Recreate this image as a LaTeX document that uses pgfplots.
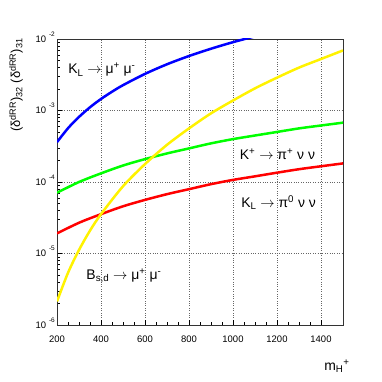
\documentclass[border=0pt]{standalone}
\usepackage{fontspec}
\setmainfont{Liberation Sans}
\setsansfont{Liberation Sans}
\usepackage{pgfplots}
\pgfplotsset{compat=1.18}

% raised exponent as ROOT draws it
\newcommand{\ex}[1]{\hspace{3bp}\raisebox{6bp}{\fontsize{6.5}{7}\selectfont #1}}
\newcommand{\lbl}{\fontsize{14}{16}\selectfont}

\begin{document}
\begin{tikzpicture}
\path[use as bounding box] (0,0) rectangle (382bp,382bp);
\begin{axis}[
    at={(57bp,57bp)}, anchor=south west,
    scale only axis, width=286bp, height=286bp,
    xmin=200, xmax=1500,
    ymode=log, ymin=1e-6, ymax=1e-2,
    xtick={200,400,...,1400}, minor x tick num=3,
    ytick={1e-6,1e-5,1e-4,1e-3,1e-2},
    minor ytick={2e-6,3e-6,4e-6,5e-6,6e-6,7e-6,8e-6,9e-6,
                 2e-5,3e-5,4e-5,5e-5,6e-5,7e-5,8e-5,9e-5,
                 2e-4,3e-4,4e-4,5e-4,6e-4,7e-4,8e-4,9e-4,
                 2e-3,3e-3,4e-3,5e-3,6e-3,7e-3,8e-3,9e-3},
    yticklabels={10\ex{-6},10\ex{-5},10\ex{-4},10\ex{-3},10\ex{-2}},
    xticklabels={200,400,600,800,1000,1200,1400},
    tick pos=left, tick align=inside,
    major tick length=5bp, minor tick length=3bp,
    tick style={black, line width=0.5bp},
    axis line style={black!80, line width=0.6bp},
    xmajorgrids, ymajorgrids,
    grid style={dotted, black!60, line width=0.5bp},
    ticklabel style={font=\fontsize{9.5}{10}\selectfont},
    xticklabel style={anchor=north, inner sep=0pt, yshift=-10.5bp},
    yticklabel style={anchor=base east, inner sep=0pt, xshift=-2bp, yshift=-3.4bp},
    every axis plot/.append style={line width=2.5bp, smooth},
]
\addplot[color=blue] coordinates {
    (200,3.61e-4)(250,5.65e-4)(300,8.13e-4)(350,1.11e-3)(400,1.45e-3)
    (450,1.83e-3)(500,2.26e-3)(600,3.25e-3)(700,4.43e-3)(800,5.78e-3)
    (900,7.31e-3)(1000,9.03e-3)(1100,1.09e-2)
};
\addplot[color=green] coordinates {
    (200,7.08e-5)(300,1.00e-4)(400,1.32e-4)(500,1.70e-4)(600,2.09e-4)
    (700,2.51e-4)(800,2.95e-4)(900,3.47e-4)(1000,3.98e-4)(1100,4.47e-4)
    (1200,5.01e-4)(1300,5.62e-4)(1400,6.17e-4)(1500,6.76e-4)
};
\addplot[color=red] coordinates {
    (200,1.91e-5)(300,2.69e-5)(400,3.55e-5)(500,4.57e-5)(600,5.62e-5)
    (700,6.76e-5)(800,7.94e-5)(900,9.33e-5)(1000,1.07e-4)(1100,1.20e-4)
    (1200,1.35e-4)(1300,1.51e-4)(1400,1.66e-4)(1500,1.82e-4)
};
\addplot[color=yellow] coordinates {
    (200,2.14e-6)(250,5.37e-6)(300,1.12e-5)(350,2.09e-5)(400,3.55e-5)
    (500,8.71e-5)(600,1.78e-4)(700,3.31e-4)(800,5.62e-4)(900,9.12e-4)
    (1000,1.38e-3)(1100,2.04e-3)(1200,2.88e-3)(1300,3.98e-3)
    (1400,5.25e-3)(1500,6.92e-3)
};
\node at (axis cs:404,3.7e-3) {\lbl K\textsubscript{L} $\rightarrow$ μ\textsuperscript{+} μ\textsuperscript{-}};
\node at (axis cs:1202,2.45e-4) {\lbl K\textsuperscript{+} $\rightarrow$ π\textsuperscript{+} ν ν};
\node at (axis cs:1207,5.1e-5) {\lbl K\textsubscript{L} $\rightarrow$ π\textsuperscript{0} ν ν};
\node at (axis cs:504,4.9e-6) {\lbl B\textsubscript{s,d} $\rightarrow$ μ\textsuperscript{+} μ\textsuperscript{-}};
\end{axis}
\node[rotate=90] at (16bp,297bp) {\fontsize{13}{15}\selectfont (δ\textsuperscript{dRR})\textsubscript{32} (δ\textsuperscript{dRR})\textsubscript{31}};
\node at (337bp,16bp) {\lbl m\textsubscript{H}\textsuperscript{+}};
\end{tikzpicture}
\end{document}
